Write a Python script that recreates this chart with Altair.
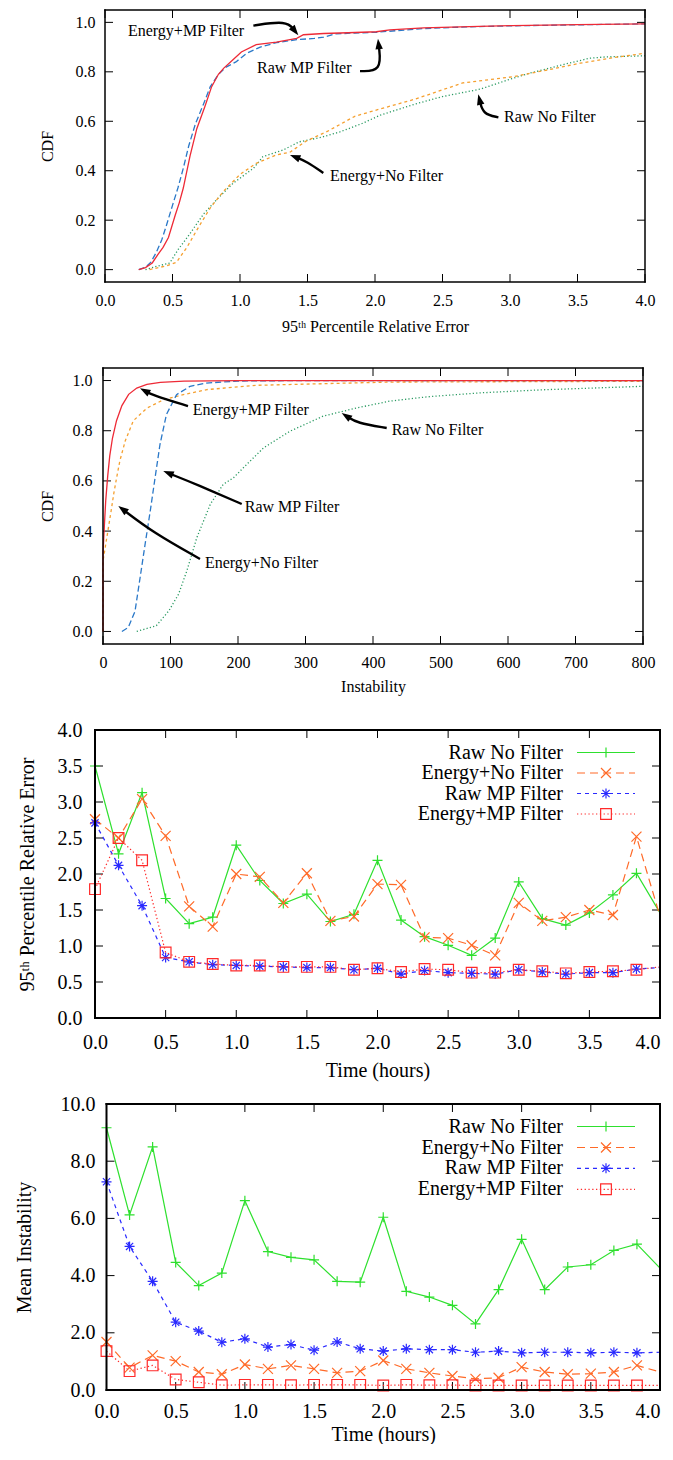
import math
import altair as alt
import pandas as pd

FONT = "Liberation Serif"
SERIES = ["Raw No Filter", "Energy+No Filter", "Raw MP Filter", "Energy+MP Filter"]

P1_RAW_NF_X = [0.30, 0.38, 0.48, 0.54, 0.63, 0.73, 0.83, 0.95, 1.10, 1.17, 1.32, 1.44, 1.60, 1.74, 1.90, 2.04, 2.30, 2.50, 2.78, 3.00, 3.15, 3.40, 3.59, 3.70, 4.00]
P1_RAW_NF_Y = [0.000, 0.013, 0.027, 0.080, 0.146, 0.225, 0.285, 0.350, 0.410, 0.457, 0.484, 0.517, 0.535, 0.557, 0.590, 0.625, 0.670, 0.700, 0.730, 0.770, 0.795, 0.830, 0.855, 0.860, 0.865]
P1_EN_NF_X = [0.33, 0.46, 0.53, 0.61, 0.68, 0.78, 0.88, 1.00, 1.12, 1.27, 1.37, 1.49, 1.65, 1.85, 2.04, 2.30, 2.65, 3.02, 3.30, 3.52, 3.80, 4.00]
P1_EN_NF_Y = [0.000, 0.016, 0.030, 0.093, 0.160, 0.250, 0.318, 0.385, 0.430, 0.464, 0.475, 0.520, 0.560, 0.620, 0.650, 0.690, 0.755, 0.780, 0.810, 0.835, 0.860, 0.875]
P1_RAW_MP_X = [0.25, 0.30, 0.34, 0.38, 0.42, 0.45, 0.50, 0.54, 0.58, 0.62, 0.67, 0.73, 0.78, 0.84, 0.90, 0.97, 1.05, 1.15, 1.27, 1.42, 1.55, 1.62, 1.70, 1.85, 2.01, 2.36, 2.70, 3.02, 3.50, 4.00]
P1_RAW_MP_Y = [0.000, 0.010, 0.030, 0.070, 0.120, 0.170, 0.260, 0.330, 0.410, 0.500, 0.590, 0.670, 0.740, 0.790, 0.820, 0.840, 0.875, 0.900, 0.918, 0.930, 0.935, 0.940, 0.953, 0.957, 0.960, 0.975, 0.982, 0.986, 0.990, 0.994]
P1_EN_MP_X = [0.25, 0.30, 0.35, 0.39, 0.43, 0.47, 0.52, 0.55, 0.58, 0.63, 0.68, 0.74, 0.79, 0.84, 0.88, 0.95, 1.01, 1.12, 1.27, 1.42, 1.47, 1.62, 1.80, 2.01, 2.11, 2.36, 2.70, 3.02, 3.50, 4.00]
P1_EN_MP_Y = [0.000, 0.008, 0.027, 0.060, 0.090, 0.130, 0.220, 0.270, 0.330, 0.460, 0.570, 0.660, 0.740, 0.790, 0.815, 0.850, 0.880, 0.910, 0.920, 0.935, 0.950, 0.955, 0.958, 0.962, 0.970, 0.978, 0.983, 0.987, 0.991, 0.994]

P1_NOTE_TEXT = ["Energy+MP Filter", "Raw MP Filter", "Raw No Filter", "Energy+No Filter"]
P1_NOTE_X = [0.17, 1.126, 2.956, 1.667]
P1_NOTE_Y = [0.966, 0.815, 0.616, 0.378]
P1_ARROW_X = [[1.099, 1.346, 1.432], [1.889, 2.050, 2.022], [2.914, 2.800, 2.765], [1.617, 1.494, 1.370]]
P1_ARROW_Y = [[0.987, 1.007, 0.948], [0.803, 0.802, 0.934], [0.616, 0.629, 0.709], [0.391, 0.437, 0.464]]

P2_RAW_NF_X = [50, 79, 97.5, 112, 124, 139, 159, 178, 193.5, 213, 238, 277, 326, 376, 425, 480, 559, 650, 800]
P2_RAW_NF_Y = [0.000, 0.023, 0.082, 0.149, 0.240, 0.374, 0.507, 0.586, 0.613, 0.666, 0.732, 0.798, 0.858, 0.891, 0.918, 0.935, 0.951, 0.963, 0.977]
P2_EN_NF_X = [0, 0, 3, 6, 9, 12, 16, 20, 25, 33, 45, 65, 90, 119, 154, 228, 425, 800]
P2_EN_NF_Y = [0.000, 0.280, 0.330, 0.380, 0.430, 0.480, 0.550, 0.610, 0.680, 0.760, 0.840, 0.890, 0.924, 0.944, 0.964, 0.981, 0.994, 0.997]
P2_RAW_MP_X = [28, 37.5, 47.4, 55, 62.5, 70, 77, 84.4, 94, 109, 129, 153, 200, 300, 800]
P2_RAW_MP_Y = [0.000, 0.016, 0.080, 0.215, 0.350, 0.480, 0.610, 0.745, 0.865, 0.944, 0.977, 0.990, 0.998, 1.000, 1.000]
P2_EN_MP_X = [0, 0, 2, 4, 7, 10, 14, 20, 28, 38, 50, 65, 85, 120, 200, 800]
P2_EN_MP_Y = [0.000, 0.310, 0.420, 0.520, 0.620, 0.700, 0.770, 0.840, 0.900, 0.945, 0.970, 0.985, 0.993, 0.998, 1.000, 1.000]

P2_NOTE_TEXT = ["Energy+MP Filter", "Raw MP Filter", "Energy+No Filter", "Raw No Filter"]
P2_NOTE_X = [133, 210, 151, 427.7]
P2_NOTE_Y = [0.882, 0.497, 0.274, 0.801]
P2_ARROW_X = [[125.9, 72.0, 54.8], [205.5, 138.8, 89.3], [143.7, 74.5, 22.7], [420.3, 375.8, 353.6]]
P2_ARROW_Y = [[0.898, 0.944, 0.969], [0.508, 0.586, 0.639], [0.289, 0.394, 0.500], [0.811, 0.831, 0.871]]

TIME = [0.0, 0.1667, 0.3333, 0.5, 0.6667, 0.8333, 1.0, 1.1667, 1.3333, 1.5, 1.6667, 1.8333, 2.0,
        2.1667, 2.3333, 2.5, 2.6667, 2.8333, 3.0, 3.1667, 3.3333, 3.5, 3.6667, 3.8333, 4.0]
P3_RAW_NF = [3.50, 2.28, 3.13, 1.66, 1.31, 1.40, 2.40, 1.91, 1.59, 1.72, 1.34, 1.44, 2.19, 1.36, 1.13, 1.01, 0.87, 1.11, 1.89, 1.38, 1.29, 1.46, 1.71, 2.01, 1.46]
P3_EN_NF = [2.76, 2.50, 3.04, 2.53, 1.55, 1.27, 2.00, 1.96, 1.60, 2.01, 1.35, 1.41, 1.86, 1.85, 1.12, 1.11, 1.01, 0.87, 1.60, 1.35, 1.40, 1.50, 1.43, 2.52, 1.41]
P3_RAW_MP = [2.71, 2.12, 1.56, 0.84, 0.78, 0.74, 0.73, 0.72, 0.71, 0.70, 0.70, 0.67, 0.69, 0.61, 0.66, 0.63, 0.62, 0.61, 0.67, 0.64, 0.61, 0.63, 0.63, 0.68, 0.70]
P3_EN_MP = [1.79, 2.50, 2.19, 0.91, 0.78, 0.75, 0.73, 0.73, 0.71, 0.71, 0.71, 0.67, 0.69, 0.64, 0.68, 0.67, 0.63, 0.63, 0.67, 0.65, 0.62, 0.64, 0.65, 0.67, 0.71]

P4_RAW_NF = [9.17, 6.12, 8.50, 4.46, 3.65, 4.09, 6.62, 4.84, 4.64, 4.55, 3.80, 3.77, 6.04, 3.45, 3.25, 2.96, 2.31, 3.51, 5.27, 3.51, 4.30, 4.38, 4.88, 5.10, 4.26]
P4_EN_NF = [1.68, 0.78, 1.21, 1.01, 0.63, 0.55, 0.89, 0.74, 0.86, 0.74, 0.60, 0.66, 1.03, 0.74, 0.60, 0.49, 0.39, 0.43, 0.80, 0.63, 0.55, 0.57, 0.63, 0.86, 0.63]
P4_RAW_MP = [7.28, 5.02, 3.80, 2.37, 2.06, 1.67, 1.79, 1.50, 1.59, 1.39, 1.68, 1.44, 1.36, 1.44, 1.41, 1.41, 1.32, 1.36, 1.30, 1.32, 1.32, 1.30, 1.32, 1.30, 1.32]
P4_EN_MP = [1.36, 0.66, 0.86, 0.37, 0.27, 0.17, 0.18, 0.18, 0.17, 0.18, 0.18, 0.18, 0.16, 0.18, 0.17, 0.17, 0.16, 0.16, 0.16, 0.16, 0.16, 0.16, 0.16, 0.16, 0.16]

P1_XTICKS = [0.0, 0.5, 1.0, 1.5, 2.0, 2.5, 3.0, 3.5, 4.0]
CDF_YTICKS = [0.0, 0.2, 0.4, 0.6, 0.8, 1.0]
P2_XTICKS = [0, 100, 200, 300, 400, 500, 600, 700, 800]
TIME_TICKS = [0.0, 0.5, 1.0, 1.5, 2.0, 2.5, 3.0, 3.5, 4.0]
P3_YTICKS = [0.0, 0.5, 1.0, 1.5, 2.0, 2.5, 3.0, 3.5, 4.0]
P4_YTICKS = [0.0, 2.0, 4.0, 6.0, 8.0, 10.0]

PLUS = "M-1,0L1,0M0,-1L0,1"
CROSS = "M-1,-1L1,1M-1,1L1,-1"
STAR = "M-1,0L1,0M0,-1L0,1M-0.72,-0.72L0.72,0.72M-0.72,0.72L0.72,-0.72"
HEAD = "M0,0L0.75,2.1L-0.75,2.1Z"

CDF_STYLE = {
    "Raw No Filter": ("#2a9a62", [1.2, 2.2]),
    "Energy+No Filter": ("#f5a030", [3, 3]),
    "Raw MP Filter": ("#2a78c8", [6, 3]),
    "Energy+MP Filter": ("#ee2a36", None),
}
TS_STYLE = {
    "Raw No Filter": ("#2ee02e", None, PLUS, 100),
    "Energy+No Filter": ("#ff6a28", [8, 5], CROSS, 100),
    "Raw MP Filter": ("#2a2aff", [4, 4], STAR, 100),
    "Energy+MP Filter": ("#ff2a2a", [1.3, 2.5], "square", 115),
}

ONE = pd.DataFrame({"k": [0]})


class Panel:
    def __init__(self, xs, ys, xaxis, yaxis):
        self.xs, self.ys, self.xaxis, self.yaxis = xs, ys, xaxis, yaxis

    def X(self, f):
        return alt.X(f, scale=self.xs, axis=self.xaxis)

    def Y(self, f):
        return alt.Y(f, scale=self.ys, axis=self.yaxis)


def make_axes(fs, xticks, xfmt, xtitle, off, w, H, xlp, xty, yticks, yfmt, ytitle, ylp, ytx,
              flush_last=False):
    common = dict(labelFont=FONT, labelFontSize=fs, labelColor="black", labelFlush=False,
                  labelOverlap=False, ticks=False, tickSize=0, domain=False, grid=False,
                  titleFont=FONT, titleFontSize=fs, titleFontWeight="normal", titleColor="black")
    extra = {}
    if flush_last:
        extra["labelAlign"] = alt.ExprRef(expr="datum.value >= %s ? 'right' : 'center'" % (xticks[-1] - 0.01))
    xaxis = alt.Axis(values=xticks, format=xfmt, labelPadding=xlp, labelBaseline="alphabetic",
                     title=xtitle, titleX=off + w / 2, titleY=xty, titleBaseline="alphabetic",
                     titleAlign="center", **extra, **common)
    yaxis = alt.Axis(values=yticks, format=yfmt, labelPadding=ylp, offset=-off,
                     title=ytitle, titleX=ytx, titleY=H / 2, titleAngle=270,
                     titleBaseline="alphabetic", titleAlign="center", **common)
    return xaxis, yaxis


def guide_layers(P, off, w, H, tl, xticks, yticks):
    L = [alt.Chart(ONE).mark_rule(strokeOpacity=0, strokeWidth=1).encode(
        x=alt.value(-86.5), y=alt.value(0), y2=alt.value(H))]
    dx = pd.DataFrame({"v": xticks})
    dy = pd.DataFrame({"v": yticks})
    tk = dict(color="black", strokeWidth=1)
    L.append(alt.Chart(dx).mark_rule(**tk).encode(x=P.X("v:Q"), y=alt.value(H), y2=alt.value(H - tl)))
    L.append(alt.Chart(dx).mark_rule(**tk).encode(x=P.X("v:Q"), y=alt.value(0), y2=alt.value(tl)))
    L.append(alt.Chart(dy).mark_rule(**tk).encode(y=P.Y("v:Q"), x=alt.value(off), x2=alt.value(off + tl)))
    L.append(alt.Chart(dy).mark_rule(**tk).encode(y=P.Y("v:Q"), x=alt.value(off + w), x2=alt.value(off + w - tl)))
    return L


def frame_layers(off, w, H, sw):
    fr = dict(color="black", strokeWidth=sw, strokeCap="square")
    return [
        alt.Chart(ONE).mark_rule(**fr).encode(x=alt.value(off), y=alt.value(0), y2=alt.value(H)),
        alt.Chart(ONE).mark_rule(**fr).encode(x=alt.value(off + w), y=alt.value(0), y2=alt.value(H)),
        alt.Chart(ONE).mark_rule(**fr).encode(x=alt.value(off), x2=alt.value(off + w), y=alt.value(0)),
        alt.Chart(ONE).mark_rule(**fr).encode(x=alt.value(off), x2=alt.value(off + w), y=alt.value(H)),
    ]


def arrow_layers(P, px, py, xdom, ydom, w, H):
    kx = w / (xdom[1] - xdom[0])
    ky = H / (ydom[1] - ydom[0])
    xc, yc, xe, ye = px[1], py[1], px[2], py[2]
    sx = (xe - xc) * kx
    sy = -(ye - yc) * ky
    n = math.hypot(sx, sy)
    ux, uy = sx / n, sy / n
    back = 7.0
    xe2 = xe - ux * back / kx
    ye2 = ye + uy * back / ky
    df = pd.DataFrame({"x": [px[0], xc, xe2], "y": [py[0], yc, ye2], "i": [0, 1, 2]})
    line = alt.Chart(df).mark_line(color="black", strokeWidth=2.4, interpolate="basis").encode(
        x=P.X("x:Q"), y=P.Y("y:Q"), order=alt.Order("i:Q"))
    ang = math.degrees(math.atan2(sx, -sy)) % 360
    head = alt.Chart(pd.DataFrame({"x": [xe], "y": [ye]})).mark_point(
        shape=HEAD, filled=True, size=100, color="black", opacity=1, angle=ang).encode(
        x=P.X("x:Q"), y=P.Y("y:Q"))
    return [line, head]


def cdf_panel(series, notes, arrows, off, w, H, xdom, xticks, xfmt, xtitle, xlp, xty, ylp, ytx):
    ydom = [-0.05, 1.05]
    xs = alt.Scale(domain=xdom, range=[off, off + w], nice=False, zero=False)
    ys = alt.Scale(domain=ydom, nice=False, zero=False)
    xaxis, yaxis = make_axes(16, xticks, xfmt, xtitle, off, w, H, xlp, xty,
                             CDF_YTICKS, ".1f", "CDF", ylp, ytx)
    P = Panel(xs, ys, xaxis, yaxis)
    L = guide_layers(P, off, w, H, 8, xticks, CDF_YTICKS)
    for name in SERIES:
        xv, yv = series[name]
        color, dash = CDF_STYLE[name]
        df = pd.DataFrame({"x": xv, "y": yv, "i": list(range(len(xv)))})
        mk = dict(color=color, strokeWidth=1.3)
        if dash:
            mk["strokeDash"] = dash
        L.append(alt.Chart(df).mark_line(**mk).encode(
            x=P.X("x:Q"), y=P.Y("y:Q"), order=alt.Order("i:Q")))
    texts, nx, ny = notes
    for t, x, y in zip(texts, nx, ny):
        L.append(alt.Chart(pd.DataFrame({"x": [x], "y": [y], "t": [t]})).mark_text(
            align="left", baseline="middle", font=FONT, fontSize=16, color="black").encode(
            x=P.X("x:Q"), y=P.Y("y:Q"), text="t:N"))
    for ax, ay in zip(*arrows):
        L += arrow_layers(P, ax, ay, xdom, ydom, w, H)
    L += frame_layers(off, w, H, 1.5)
    return alt.layer(*L).properties(width=off + w, height=H)


def ts_panel(values, off, w, H, ydom, yticks, ytitle, xlp, xty, ylp, ytx, rows):
    xs = alt.Scale(domain=[0, 4], range=[off, off + w], nice=False, zero=False)
    ys = alt.Scale(domain=ydom, nice=False, zero=False)
    xaxis, yaxis = make_axes(20, TIME_TICKS, ".1f", "Time (hours)", off, w, H, xlp, xty,
                             yticks, ".1f", ytitle, ylp, ytx, flush_last=True)
    P = Panel(xs, ys, xaxis, yaxis)
    L = guide_layers(P, off, w, H, 8, TIME_TICKS, yticks)
    for name in SERIES:
        color, dash, shape, size = TS_STYLE[name]
        df = pd.DataFrame({"t": TIME, "v": values[name]})
        mk = dict(color=color, strokeWidth=1.2)
        if dash:
            mk["strokeDash"] = dash
        L.append(alt.Chart(df).mark_line(**mk).encode(x=P.X("t:Q"), y=P.Y("v:Q")))
        L.append(alt.Chart(df).mark_point(shape=shape, size=size, color=color, filled=False,
                                          strokeWidth=1.2, opacity=1).encode(
            x=P.X("t:Q"), y=P.Y("v:Q")).transform_filter("datum.t < 3.9"))
    for name, ly in zip(SERIES, rows):
        color, dash, shape, size = TS_STYLE[name]
        L.append(alt.Chart(ONE).mark_text(align="right", baseline="middle", font=FONT,
                                          fontSize=20, color="black").encode(
            x=alt.value(468), y=alt.value(ly), text=alt.value(name)))
        mk = dict(color=color, strokeWidth=1.2)
        if dash:
            mk["strokeDash"] = dash
        L.append(alt.Chart(ONE).mark_rule(**mk).encode(
            x=alt.value(482), x2=alt.value(540), y=alt.value(ly)))
        L.append(alt.Chart(ONE).mark_point(shape=shape, size=size, color=color, filled=False,
                                           strokeWidth=1.2, opacity=1).encode(
            x=alt.value(511), y=alt.value(ly)))
    L += frame_layers(off, w, H, 2)
    return alt.layer(*L).properties(width=off + w, height=H)


p1 = cdf_panel(
    {"Raw No Filter": (P1_RAW_NF_X, P1_RAW_NF_Y), "Energy+No Filter": (P1_EN_NF_X, P1_EN_NF_Y),
     "Raw MP Filter": (P1_RAW_MP_X, P1_RAW_MP_Y), "Energy+MP Filter": (P1_EN_MP_X, P1_EN_MP_Y)},
    (P1_NOTE_TEXT, P1_NOTE_X, P1_NOTE_Y), (P1_ARROW_X, P1_ARROW_Y),
    off=10, w=540, H=272, xdom=[0, 4], xticks=P1_XTICKS, xfmt=".1f",
    xtitle="95ᵗʰ Percentile Relative Error", xlp=23, xty=49.5, ylp=10, ytx=-53)

p2 = cdf_panel(
    {"Raw No Filter": (P2_RAW_NF_X, P2_RAW_NF_Y), "Energy+No Filter": (P2_EN_NF_X, P2_EN_NF_Y),
     "Raw MP Filter": (P2_RAW_MP_X, P2_RAW_MP_Y), "Energy+MP Filter": (P2_EN_MP_X, P2_EN_MP_Y)},
    (P2_NOTE_TEXT, P2_NOTE_X, P2_NOTE_Y), (P2_ARROW_X, P2_ARROW_Y),
    off=8, w=540, H=276, xdom=[0, 800], xticks=P2_XTICKS, xfmt="d",
    xtitle="Instability", xlp=23, xty=47, ylp=11, ytx=-51)

p3 = ts_panel(
    {"Raw No Filter": P3_RAW_NF, "Energy+No Filter": P3_EN_NF,
     "Raw MP Filter": P3_RAW_MP, "Energy+MP Filter": P3_EN_MP},
    off=0, w=565, H=288, ydom=[0, 4], yticks=P3_YTICKS,
    ytitle="95ᵗʰ Percentile Relative Error", xlp=30.5, xty=58, ylp=13, ytx=-61.5,
    rows=[22.5, 43, 63.5, 84])

p4 = ts_panel(
    {"Raw No Filter": P4_RAW_NF, "Energy+No Filter": P4_EN_NF,
     "Raw MP Filter": P4_RAW_MP, "Energy+MP Filter": P4_EN_MP},
    off=11.5, w=553.5, H=286, ydom=[0, 10], yticks=P4_YTICKS,
    ytitle="Mean Instability", xlp=27, xty=50, ylp=11.5, ytx=-76.5,
    rows=[22.5, 43.5, 64.3, 85.3])

chart = alt.vconcat(p1, p2, p3, p4, spacing=86, bounds="flush").properties(
    padding=0).configure_view(strokeWidth=0)
chart.save("out.html", embed_options={"renderer": "svg", "actions": False})
